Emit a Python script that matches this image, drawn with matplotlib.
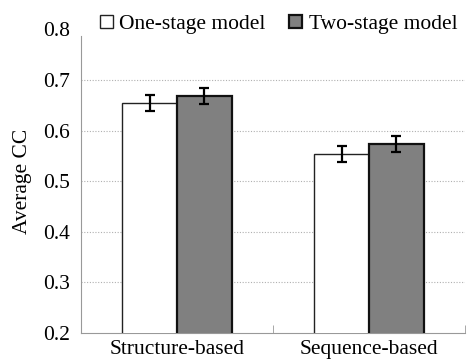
import numpy as np
from matplotlib import pyplot as plt

categories = ['Structure-based', 'Sequence-based']
series_names = ['One-stage model', 'Two-stage model']
one_stage = [0.654, 0.554]
two_stage = [0.668, 0.574]
one_err = [0.016, 0.016]
two_err = [0.016, 0.016]
yticks = [0.2, 0.3, 0.4, 0.5, 0.6, 0.7, 0.8]

plt.rcParams['font.family'] = ['Liberation Serif', 'DejaVu Serif']
plt.rcParams['font.size'] = 15.5

fig = plt.figure(figsize=(4.68, 3.6), dpi=100)
ax = fig.add_axes([81 / 468, 27 / 360, 384 / 468, 303.6 / 360])

x = np.arange(len(categories))
w = 0.286
ax.bar(x - w / 2, one_stage, w, color='white', edgecolor='#222222',
       linewidth=1.0, yerr=one_err, capsize=3.5,
       error_kw=dict(elinewidth=1.6, capthick=1.6, ecolor='black'),
       label=series_names[0], zorder=3)
ax.bar(x + w / 2, two_stage, w, color='#808080', edgecolor='#111111',
       linewidth=1.6, yerr=two_err, capsize=3.5,
       error_kw=dict(elinewidth=1.6, capthick=1.6, ecolor='black'),
       label=series_names[1], zorder=3)

ax.set_ylim(0.2, 0.8)
ax.set_xlim(-0.5, 1.5)
ax.set_yticks(yticks)
ax.set_yticklabels([f'{v:.1f}' for v in yticks])
ax.set_xticks(x)
ax.set_xticklabels(categories)
ax.set_xticks([-0.5, 0.5, 1.5], minor=True)
ax.tick_params(axis='x', which='major', length=0, pad=5)
ax.tick_params(axis='x', which='minor', direction='in', length=6, color='#999999')
ax.tick_params(axis='y', length=0, pad=8)
ax.set_ylabel('Average CC', labelpad=8)

for v in yticks[1:-1]:
    ax.axhline(v, color='#b0b0b0', linestyle=(0, (1, 1.5)), linewidth=0.8, zorder=1)

for s in ['top', 'right']:
    ax.spines[s].set_visible(False)
ax.spines['left'].set_color('#999999')
ax.spines['bottom'].set_color('#999999')
ax.spines['left'].set_bounds(0.2, 0.787)

ax.legend(loc='lower center', bbox_to_anchor=(0.515, 0.985), ncol=2, frameon=False,
          handlelength=0.6, handleheight=0.6, handletextpad=0.3,
          columnspacing=1.1, borderpad=0, borderaxespad=0)

fig.savefig('out.png', dpi=100)
